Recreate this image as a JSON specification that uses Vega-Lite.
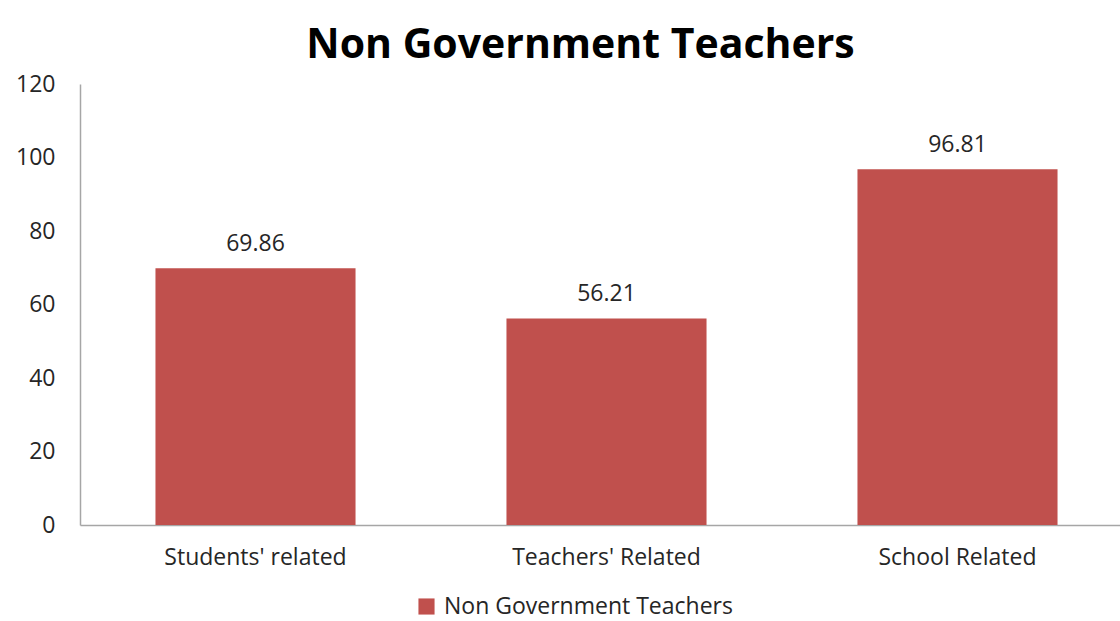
{
  "$schema": "https://vega.github.io/schema/vega-lite/v6.json",
  "autosize": "none",
  "padding": {"left": 80, "top": 84, "right": 0, "bottom": 96},
  "width": 1053,
  "height": 441,
  "background": "white",
  "title": {
    "text": "Non Government Teachers",
    "font": "Open Sans",
    "fontSize": 41,
    "fontWeight": "bold",
    "color": "#000000",
    "anchor": "middle",
    "dx": -26,
    "offset": 6
  },
  "data": {
    "values": [
      {"category": "Students' related", "value": 69.86, "series": "Non Government Teachers"},
      {"category": "Teachers' Related", "value": 56.21, "series": "Non Government Teachers"},
      {"category": "School Related", "value": 96.81, "series": "Non Government Teachers"}
    ]
  },
  "config": {
    "view": {"stroke": null},
    "font": "Open Sans"
  },
  "encoding": {
    "x": {
      "field": "category",
      "type": "nominal",
      "sort": null,
      "scale": {"paddingInner": 0.43, "paddingOuter": 0.215},
      "axis": {
        "title": null,
        "labelAngle": 0,
        "ticks": false,
        "domainColor": "#a6a6a6",
        "domainWidth": 1.5,
        "labelFont": "Open Sans",
        "labelFontSize": 23,
        "labelColor": "#262626",
        "labelPadding": 21,
        "labelLimit": 400
      }
    },
    "y": {
      "field": "value",
      "type": "quantitative",
      "scale": {"domain": [0, 120]},
      "axis": {
        "title": null,
        "values": [0, 20, 40, 60, 80, 100, 120],
        "grid": false,
        "ticks": false,
        "domainColor": "#a6a6a6",
        "domainWidth": 1.5,
        "labelFont": "Open Sans",
        "labelFontSize": 23,
        "labelColor": "#262626",
        "labelPadding": 25
      }
    }
  },
  "layer": [
    {
      "mark": {"type": "bar"},
      "encoding": {
        "color": {
          "field": "series",
          "type": "nominal",
          "scale": {"range": ["#c0504d"]},
          "legend": {
            "title": null,
            "orient": "none",
            "legendX": 335,
            "legendY": 511,
            "symbolType": "square",
            "symbolSize": 260,
            "symbolStrokeWidth": 0,
            "labelFont": "Open Sans",
            "labelFontSize": 23,
            "labelColor": "#262626",
            "labelOffset": 6,
            "labelLimit": 500
          }
        }
      }
    },
    {
      "mark": {"type": "text", "font": "Open Sans", "fontSize": 23, "color": "#262626", "baseline": "alphabetic", "dy": -17},
      "encoding": {
        "text": {"field": "value", "type": "quantitative", "format": ".2f"}
      }
    }
  ]
}
